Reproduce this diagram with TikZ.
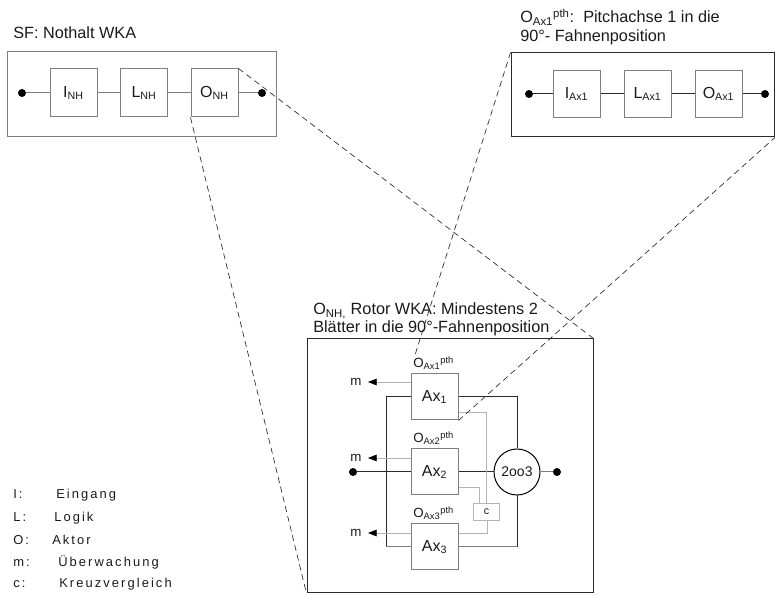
\documentclass[tikz,border=0pt]{standalone}
\usepackage{fontspec}
\setmainfont{Liberation Sans}
\newfontfamily\legendfont[LetterSpace=16]{Liberation Sans}
\usetikzlibrary{arrows.meta}
\definecolor{boxgray}{HTML}{7F7F7F}
\definecolor{ink}{HTML}{1A1A1A}
\definecolor{lightln}{HTML}{B4B4B4}
\definecolor{darkln}{HTML}{2A2A2A}
\begin{document}
\begin{tikzpicture}[x=0.75pt,y=-0.75pt,
  every node/.style={text=ink},
  frame/.style={draw=boxgray, line width=0.75pt, inner sep=0pt},
  blk/.style={draw=boxgray, line width=0.75pt, inner sep=0pt, minimum width=35.25pt, minimum height=35pt, font=\fontsize{12}{14}\selectfont},
  dot/.style={circle, fill=black, inner sep=0pt, minimum size=6pt},
  ln/.style={line width=0.75pt, draw=boxgray},
  lnd/.style={line width=0.75pt, draw=darkln},
  mon/.style={line width=0.6pt, draw=lightln},
  lead/.style={line width=0.5pt, draw=darkln, dash pattern=on 4.5pt off 3pt},
  ttl/.style={anchor=base west, inner sep=0pt, font=\fontsize{12.2}{14}\selectfont},
  olab/.style={anchor=base west, inner sep=0pt, font=\fontsize{10}{12}\selectfont},
  mlab/.style={inner sep=0pt, font=\fontsize{10}{12}\selectfont},
  leg/.style={anchor=base west, inner sep=0pt, font=\legendfont\fontsize{9.7}{11}\selectfont},
  marr/.style={mon, -{Triangle[length=6.5pt,width=5pt,color=black,fill=black]}}
]
\useasboundingbox (0,0) rectangle (776,595);

% ---------- top left: SF Nothalt WKA ----------
\node[ttl] (t1) at (13,39) {SF: Nothalt WKA};
\node[frame, minimum width=201.75pt, minimum height=63.75pt] (F1) at (141.5,94.5) {};
\node[dot] (d1) at (22,93) {};
\node[blk, minimum height=36pt] (INH) at (73.5,93) {I\textsubscript{NH}};
\node[blk, minimum height=36pt] (LNH) at (144,93) {L\textsubscript{NH}};
\node[blk, minimum height=36pt] (ONH) at (214.5,93) {O\textsubscript{NH}};
\node[dot] (d2) at (262,93) {};
\draw[ln] (d1) -- (INH);
\draw[ln] (INH) -- (LNH);
\draw[ln] (LNH) -- (ONH);
\draw[ln] (ONH) -- (d2);

% ---------- top right: Pitchachse ----------
\node[ttl] (t2a) at (520,23) {O\textsubscript{Ax1}\textsuperscript{pth}:\ \ Pitchachse 1 in die};
\node[ttl] (t2b) at (520,42) {90°- Fahnenposition};
\node[frame, draw=darkln, minimum width=197.6pt, minimum height=63pt] (F2) at (642.75,95) {};
\node[dot] (d3) at (529,94) {};
\node[blk] (IAx) at (576.5,94) {I\textsubscript{Ax1}};
\node[blk] (LAx) at (647.5,94) {L\textsubscript{Ax1}};
\node[blk] (OAx) at (718.5,94) {O\textsubscript{Ax1}};
\node[dot] (d4) at (765,94) {};
\draw[lnd] (d3) -- (IAx);
\draw[lnd] (IAx) -- (LAx);
\draw[lnd] (LAx) -- (OAx);
\draw[lnd] (OAx) -- (d4);

% ---------- bottom: Rotor WKA ----------
\node[ttl] (t3a) at (313,315) {O\textsubscript{NH,} Rotor WKA: Mindestens 2};
\node[ttl] (t3b) at (313,333) {Blätter in die 90°-Fahnenposition};
\node[frame, draw=darkln, minimum width=214.5pt, minimum height=190.5pt] (F3) at (450,466) {};

\node[olab] (o1) at (413,368) {O\textsubscript{Ax1}\textsuperscript{pth}};
\node[olab] (o2) at (413,443) {O\textsubscript{Ax2}\textsuperscript{pth}};
\node[olab] (o3) at (413,518) {O\textsubscript{Ax3}\textsuperscript{pth}};
\node[blk, minimum height=34.5pt] (A1) at (434.5,397) {Ax\textsubscript{1}};
\node[blk, minimum height=34.5pt] (A2) at (434.5,472) {Ax\textsubscript{2}};
\node[blk, minimum height=34.5pt] (A3) at (434.5,547) {Ax\textsubscript{3}};
\node[circle, draw=black, line width=0.75pt, minimum size=34.5pt, inner sep=0pt, font=\fontsize{10.5}{12}\selectfont] (V) at (517,472) {2oo3};
\node[draw=lightln, line width=0.6pt, minimum width=19.5pt, minimum height=12.75pt, inner sep=0pt, font=\fontsize{8}{10}\selectfont] (C) at (486.5,511.5) {c};
\node[dot] (d5) at (353,472) {};
\node[dot] (d6) at (557,472) {};

\coordinate (L1) at (386,397);
\coordinate (L3) at (386,547);
\coordinate (R1) at (517,397);
\coordinate (R3) at (517,547);
\draw[lnd] (d5) -- (A2);
\draw[lnd] (L1) -- (A1.west |- L1);
\draw[lnd] (L1) -- (L3);
\draw[ln] (L3) -- (A3.west |- L3);
\draw[lnd] (A1.east |- R1) -- (R1) -- (V.north);
\draw[lnd] (A2) -- (V);
\draw[ln] (A3.east |- R3) -- (R3);
\draw[lnd] (R3) -- (V.south);
\draw[ln] (V) -- (d6);

% monitoring lines to cross comparison
\coordinate (c1) at (486,412);
\coordinate (c2) at (479,487);
\coordinate (c3) at (487,533);
\draw[mon] (A1.east |- c1) -- (c1) -- (c1 |- C.north);
\draw[mon] (A2.east |- c2) -- (c2) -- (c2 |- C.north);
\draw[mon] (A3.east |- c3) -- (c3) -- (c3 |- C.south);

% m outputs
\node[mlab] (m1) at (356,382) {m};
\node[mlab] (m2) at (356,458) {m};
\node[mlab] (m3) at (356,533) {m};
\coordinate (a1) at (368,382);
\coordinate (a2) at (368,458);
\coordinate (a3) at (368,533);
\draw[marr] (A1.west |- a1) -- (a1);
\draw[marr] (A2.west |- a2) -- (a2);
\draw[marr] (A3.west |- a3) -- (a3);

% ---------- dashed leader lines ----------
\coordinate (e2) at (415,355);
\draw[lead] (ONH.north east) -- (F3.north east);
\draw[lead] (ONH.south west) -- (F3.south west);
\draw[lead] (F2.north west) -- (e2);
\draw[lead] (A1.south east) -- (F2.south east);

% ---------- legend ----------
\node[leg] (k1) at (13,499) {I:};
\node[leg] (v1) at (56,499) {Eingang};
\node[leg] (k2) at (13,522) {L:};
\node[leg] (v2) at (54,522) {Logik};
\node[leg] (k3) at (13,545) {O:};
\node[leg] (v3) at (52,545) {Aktor};
\node[leg] (k4) at (13,567) {m:};
\node[leg] (v4) at (58,567) {Überwachung};
\node[leg] (k5) at (13,588) {c:};
\node[leg] (v5) at (59,588) {Kreuzvergleich};
\end{tikzpicture}
\end{document}
